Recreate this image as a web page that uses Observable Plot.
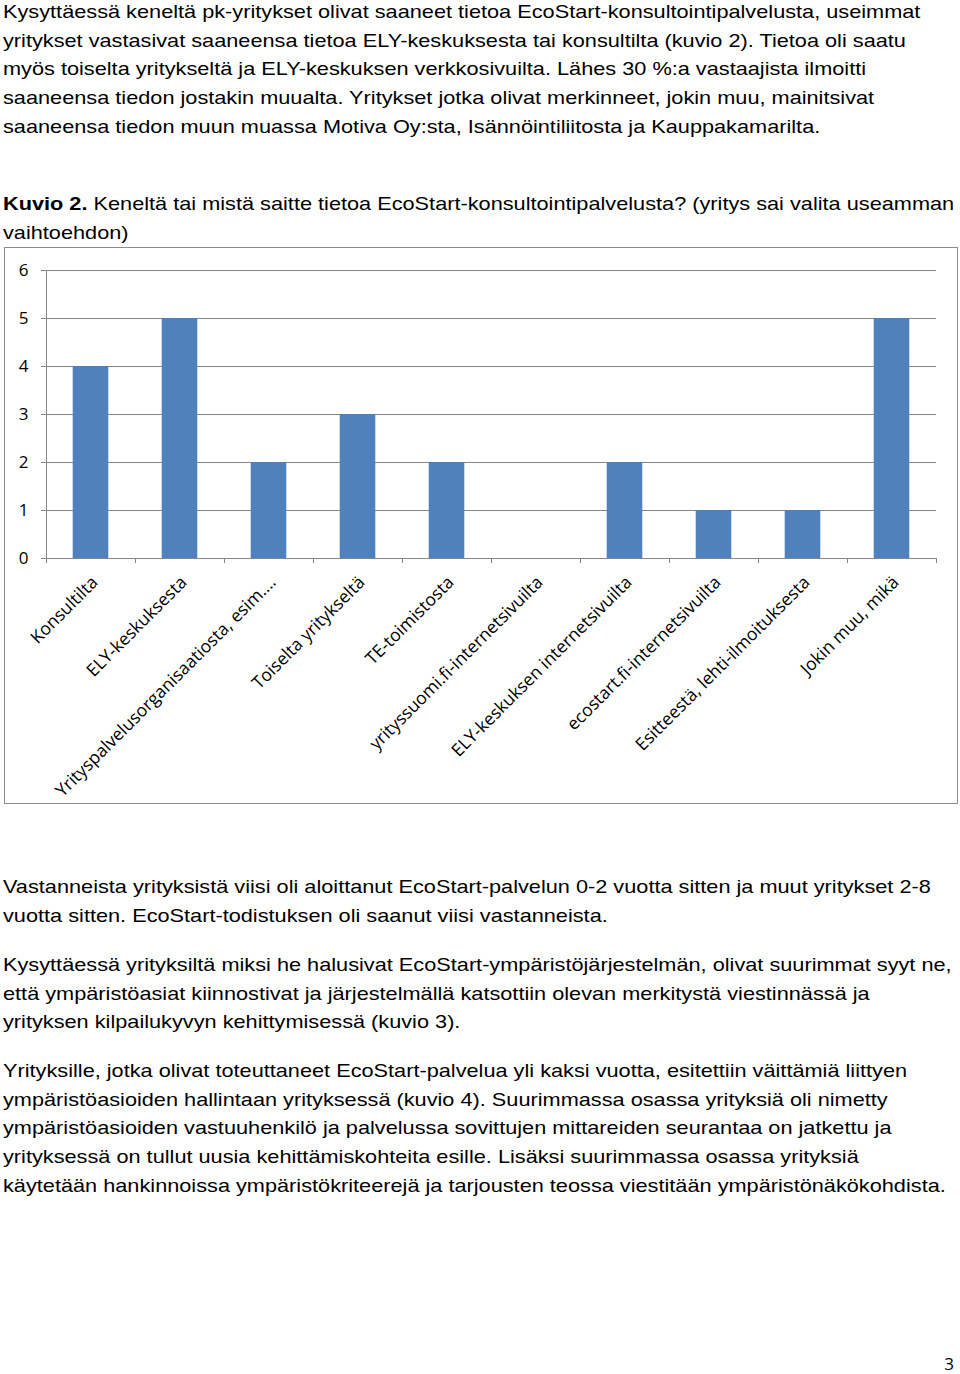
<!DOCTYPE html>
<html>
<head>
<meta charset="utf-8">
<script src="https://cdn.jsdelivr.net/npm/d3@7"></script>
<script src="https://cdn.jsdelivr.net/npm/@observablehq/plot@0.6"></script>
<style>
  html, body { margin: 0; padding: 0; background: #fff; }
  #page { position: relative; width: 960px; height: 1374px; overflow: hidden; background: #fff; color: #000; }
  .block { position: absolute; left: 3px; font-family: "Liberation Sans", Arial, sans-serif; font-size: 19px; line-height: 28.7px; white-space: nowrap; transform: scaleX(1.143); transform-origin: 0 0; }
  .block div { white-space: nowrap; }
  #chartbox { position: absolute; left: 4px; top: 247px; width: 952px; height: 555px; border: 1.5px solid #8c8c8c; background: #fff; }
  #pagenum { position: absolute; right: 6px; top: 1352px; font-family: "Open Sans", sans-serif; font-size: 17px; }
</style>
</head>
<body>
<div id="page">
  <div class="block" id="p1" style="top:-2px"></div>
  <div class="block" id="caption" style="top:190px"></div>
  <div id="chartbox"></div>
  <div class="block" id="p2" style="top:873px"></div>
  <div class="block" id="p3" style="top:951px"></div>
  <div class="block" id="p4" style="top:1057px"></div>
  <div id="pagenum">3</div>
</div>
<script>
// ---- Data ----
const categories = [
  "Konsultilta",
  "ELY-keskuksesta",
  "Yrityspalvelusorganisaatiosta, esim.…",
  "Toiselta yritykseltä",
  "TE-toimistosta",
  "yrityssuomi.fi-internetsivuilta",
  "ELY-keskuksen internetsivuilta",
  "ecostart.fi-internetsivuilta",
  "Esitteestä, lehti-ilmoituksesta",
  "Jokin muu, mikä"
];
const values = [4, 5, 2, 3, 2, 0, 2, 1, 1, 5];
const yTicks = [0, 1, 2, 3, 4, 5, 6];

// ---- Text ----
const para1 = [
  "Kysyttäessä keneltä pk-yritykset olivat saaneet tietoa EcoStart-konsultointipalvelusta, useimmat",
  "yritykset vastasivat saaneensa tietoa ELY-keskuksesta tai konsultilta (kuvio 2). Tietoa oli saatu",
  "myös toiselta yritykseltä ja ELY-keskuksen verkkosivuilta. Lähes 30 %:a vastaajista ilmoitti",
  "saaneensa tiedon jostakin muualta. Yritykset jotka olivat merkinneet, jokin muu, mainitsivat",
  "saaneensa tiedon muun muassa Motiva Oy:sta, Isännöintiliitosta ja Kauppakamarilta."
];
const captionBold = "Kuvio 2.";
const captionLines = [
  " Keneltä tai mistä saitte tietoa EcoStart-konsultointipalvelusta? (yritys sai valita useamman",
  "vaihtoehdon)"
];
const para2 = [
  "Vastanneista yrityksistä viisi oli aloittanut EcoStart-palvelun 0-2 vuotta sitten ja muut yritykset 2-8",
  "vuotta sitten. EcoStart-todistuksen oli saanut viisi vastanneista."
];
const para3 = [
  "Kysyttäessä yrityksiltä miksi he halusivat EcoStart-ympäristöjärjestelmän, olivat suurimmat syyt ne,",
  "että ympäristöasiat kiinnostivat ja järjestelmällä katsottiin olevan merkitystä viestinnässä ja",
  "yrityksen kilpailukyvyn kehittymisessä (kuvio 3)."
];
const para4 = [
  "Yrityksille, jotka olivat toteuttaneet EcoStart-palvelua yli kaksi vuotta, esitettiin väittämiä liittyen",
  "ympäristöasioiden hallintaan yrityksessä (kuvio 4). Suurimmassa osassa yrityksiä oli nimetty",
  "ympäristöasioiden vastuuhenkilö ja palvelussa sovittujen mittareiden seurantaa on jatkettu ja",
  "yrityksessä on tullut uusia kehittämiskohteita esille. Lisäksi suurimmassa osassa yrityksiä",
  "käytetään hankinnoissa ympäristökriteerejä ja tarjousten teossa viestitään ympäristönäkökohdista."
];

function fill(id, lines) {
  const el = document.getElementById(id);
  lines.forEach(t => { const d = document.createElement("div"); d.textContent = t; el.appendChild(d); });
}
fill("p1", para1);
fill("p2", para2);
fill("p3", para3);
fill("p4", para4);
{
  const el = document.getElementById("caption");
  const l1 = document.createElement("div");
  const b = document.createElement("b"); b.textContent = captionBold;
  l1.appendChild(b); l1.appendChild(document.createTextNode(captionLines[0]));
  el.appendChild(l1);
  const l2 = document.createElement("div"); l2.textContent = captionLines[1]; el.appendChild(l2);
}

// ---- Chart ----
const data = categories.map((c, i) => ({category: c, index: i, value: values[i]}));
const gray = "#868686";
const chart = Plot.plot({
  width: 952,
  height: 555,
  marginLeft: 41,
  marginRight: 21,
  marginTop: 22,
  marginBottom: 245,
  style: {background: "transparent", fontFamily: "'Open Sans', sans-serif", fontSize: "15px", color: "#000", overflow: "visible"},
  x: {domain: [0, categories.length], axis: null},
  y: {domain: [0, 6], axis: null},
  marks: [
    Plot.ruleY(yTicks, {y: d => d, stroke: gray, strokeWidth: 1, insetLeft: -5}),
    Plot.ruleX([0], {stroke: gray, strokeWidth: 1}),
    Plot.ruleX(d3.range(categories.length + 1), {x: d => d, y1: 0, y2: 0, insetBottom: -5, stroke: gray, strokeWidth: 1}),
    Plot.rectY(data, {x1: d => d.index, x2: d => d.index + 1, y1: 0, y2: "value", insetLeft: 26.7, insetRight: 26.7, fill: "#4F81BD"}),
    Plot.text(yTicks, {y: d => d, text: d => String(d), frameAnchor: "left", textAnchor: "end", dx: -18, fill: "#000", fontSize: 17}),
    Plot.text(data, {x: d => d.index + 0.5, y: 0, text: "category", rotate: -45, textAnchor: "end", lineAnchor: "middle", dx: 4, dy: 21, fill: "#000", fontSize: 17.5})
  ]
});
document.getElementById("chartbox").appendChild(chart);
</script>
</body>
</html>
